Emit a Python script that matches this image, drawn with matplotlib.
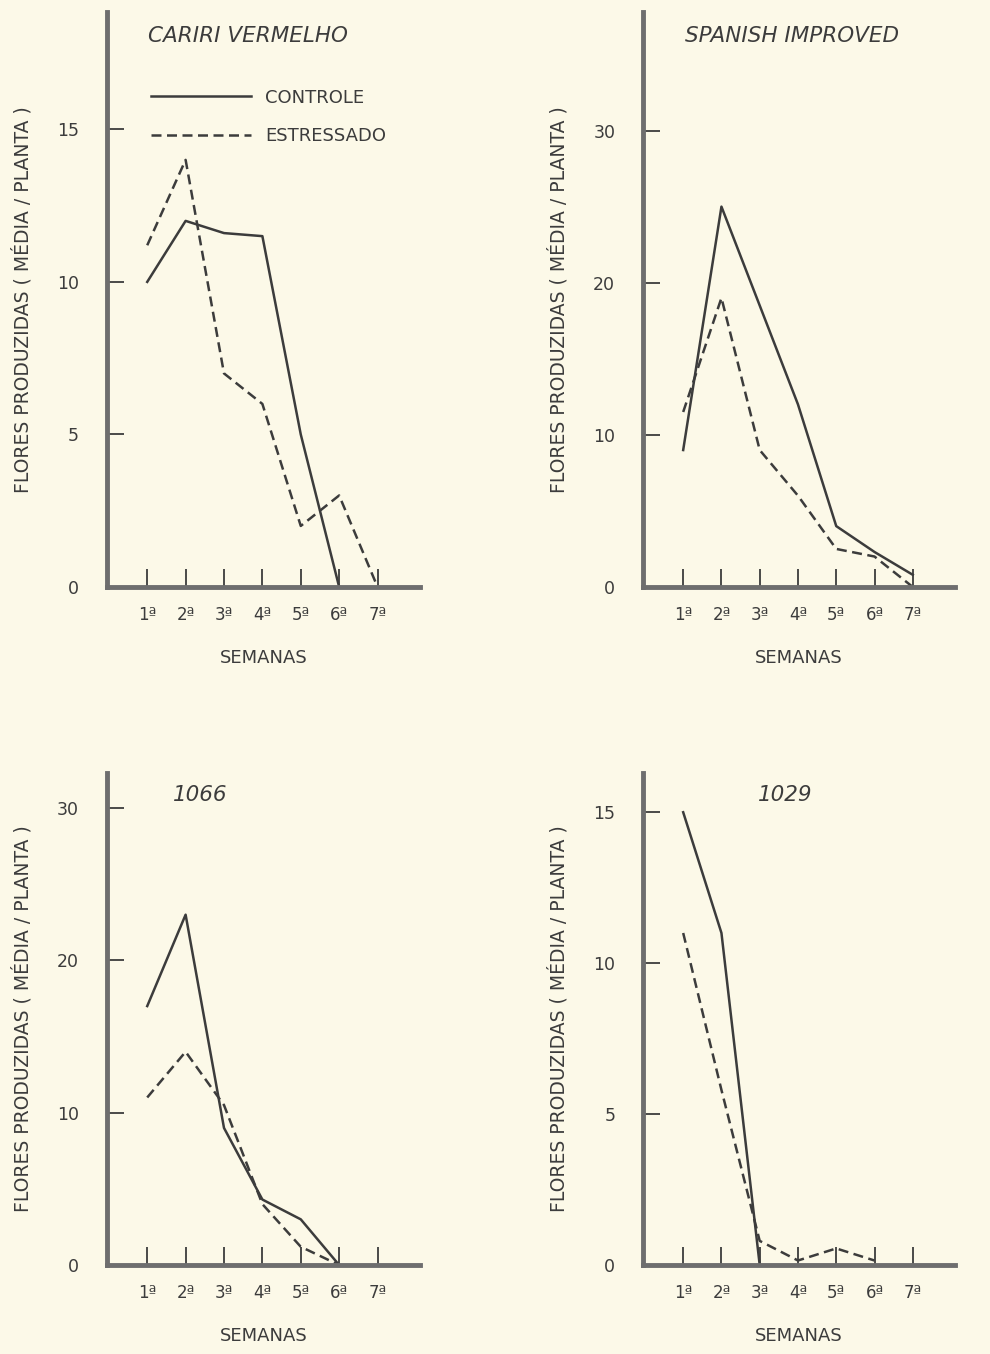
import matplotlib
matplotlib.use("Agg")
import matplotlib.pyplot as plt

# semanas (x) e medias de flores por planta
semanas = [1, 2, 3, 4, 5, 6, 7]
semana_labels = ["1ª", "2ª", "3ª", "4ª", "5ª", "6ª", "7ª"]

# Cariri Vermelho
cariri_ctrl = [10, 12, 11.6, 11.5, 5, 0]
cariri_estr = [11.2, 14, 7, 6, 2, 3, 0]

# Spanish Improved
spanish_ctrl = [9, 25, 18.5, 12, 4, 2.3, 0.8]
spanish_estr = [11.5, 19, 9, 6, 2.5, 2, 0]

# 1066
l1066_ctrl = [17, 23, 9, 4.3, 3, 0]
l1066_estr = [11, 14, 10.5, 4, 1.2, 0]

# 1029
l1029_ctrl = [15, 11, 0]
l1029_estr = [11, 5.8, 0.8, 0.15, 0.55, 0.15]

BG = "#fcf9e8"
INK = "#3c3c3c"
AXC = "#6e6e6e"

fig = plt.figure(figsize=(9.9, 13.54), dpi=100, facecolor=BG)

def painel(rect, ctrl, estr, ymax, yticks, titulo, tx, legenda=False):
    ax = fig.add_axes(rect, facecolor=BG)
    ax.plot(semanas[:len(ctrl)], ctrl, color=INK, lw=1.8, label="CONTROLE")
    ax.plot(semanas[:len(estr)], estr, color=INK, lw=1.8, ls=(0, (4, 2.2)), label="ESTRESSADO")
    ax.set_xlim(-0.05, 8.1)
    ax.set_ylim(0, ymax)
    for s in ["top", "right"]:
        ax.spines[s].set_visible(False)
    for s in ["left", "bottom"]:
        ax.spines[s].set_color(AXC)
        ax.spines[s].set_linewidth(3.5)
    ax.set_xticks(semanas)
    ax.set_xticklabels(semana_labels)
    ax.set_yticks(yticks)
    ax.tick_params(axis="x", direction="in", length=13, width=1.3, color=INK,
                   pad=14, labelsize=12, labelcolor=INK)
    ax.tick_params(axis="y", direction="in", length=12, width=1.3, color=INK,
                   pad=20, labelsize=12.5, labelcolor=INK)
    ax.set_xlabel("SEMANAS", fontsize=13, color=INK, labelpad=18)
    ax.set_ylabel("FLORES PRODUZIDAS ( MÉDIA / PLANTA )", fontsize=13.5, color=INK, labelpad=18)
    ax.text(tx, 0.975, titulo, transform=ax.transAxes, fontsize=15.5, style="italic",
            color=INK, va="top", ha="left")
    if legenda:
        ax.legend(loc="upper left", bbox_to_anchor=(0.09, 0.895), frameon=False,
                  handlelength=5.5, fontsize=13, labelspacing=1.15,
                  labelcolor=INK, handletextpad=0.8)
    return ax

painel([0.108, 0.5665, 0.316, 0.4247], cariri_ctrl, cariri_estr, 18.85, [0, 5, 10, 15],
       "CARIRI VERMELHO", 0.13, legenda=True)
painel([0.6495, 0.5665, 0.315, 0.4247], spanish_ctrl, spanish_estr, 37.8, [0, 10, 20, 30],
       "SPANISH IMPROVED", 0.135)
painel([0.108, 0.0657, 0.316, 0.3634], l1066_ctrl, l1066_estr, 32.3, [0, 10, 20, 30],
       "1066", 0.21)
painel([0.6495, 0.0657, 0.315, 0.3634], l1029_ctrl, l1029_estr, 16.3, [0, 5, 10, 15],
       "1029", 0.37)

fig.savefig("out.png", dpi=100, facecolor=BG)
